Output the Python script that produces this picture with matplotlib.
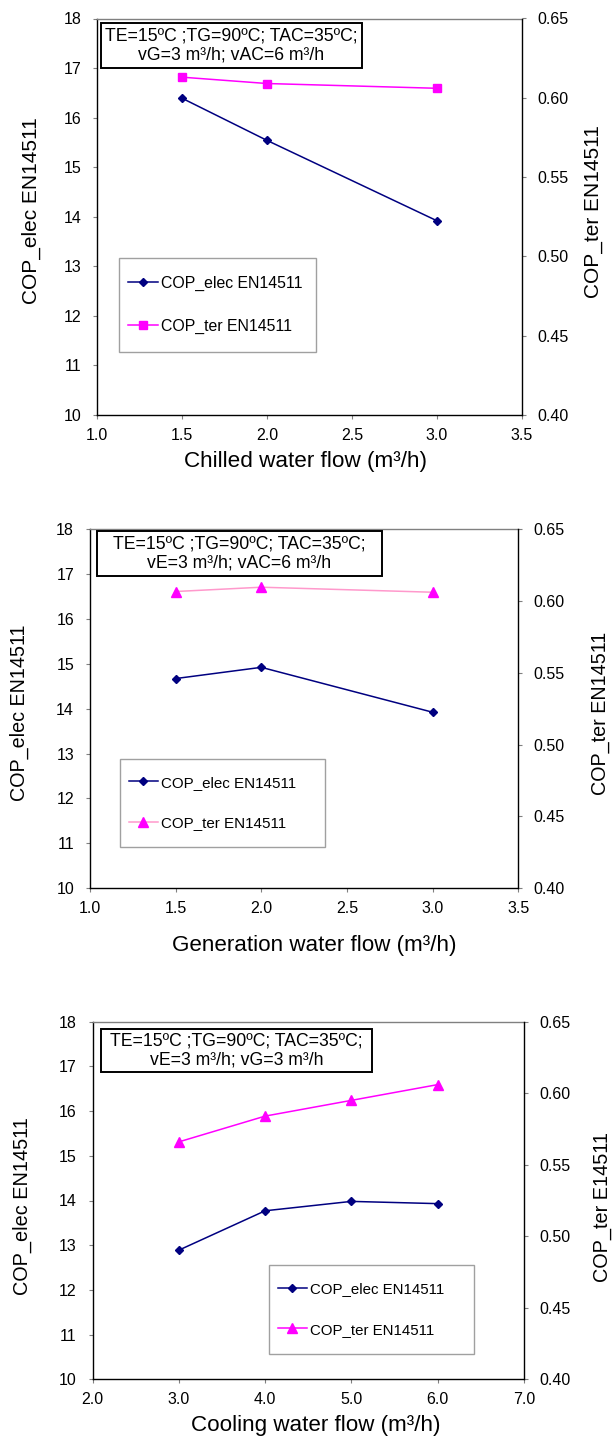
import matplotlib
matplotlib.use('Agg')
import matplotlib.pyplot as plt
from matplotlib.lines import Line2D
from matplotlib.patches import Rectangle
from matplotlib.ticker import FormatStrFormatter, MultipleLocator

plt.rcParams['font.family'] = ['Liberation Sans', 'DejaVu Sans']

W, H, DPI = 613, 1439, 100

# ---------------- data ----------------
chilled_flow = [1.5, 2.0, 3.0]
chilled_cop_elec = [16.39, 15.54, 13.92]
chilled_cop_ter = [0.613, 0.609, 0.606]

gen_flow = [1.5, 2.0, 3.0]
gen_cop_elec = [14.67, 14.92, 13.92]
gen_cop_ter = [0.6065, 0.6095, 0.606]

cool_flow = [3.0, 4.0, 5.0, 6.0]
cool_cop_elec = [12.89, 13.77, 13.98, 13.93]
cool_cop_ter = [0.566, 0.584, 0.595, 0.606]

series_names = ['COP_elec EN14511', 'COP_ter EN14511']
left_label = 'COP_elec EN14511'
right_labels = ['COP_ter EN14511', 'COP_ter EN14511', 'COP_ter E14511']
x_labels = ['Chilled water flow (m³/h)', 'Generation water flow (m³/h)',
            'Cooling water flow (m³/h)']
conditions = ['TE=15ºC ;TG=90ºC; TAC=35ºC;\nvG=3 m³/h; vAC=6 m³/h',
              'TE=15ºC ;TG=90ºC; TAC=35ºC;\nvE=3 m³/h; vAC=6 m³/h',
              'TE=15ºC ;TG=90ºC; TAC=35ºC;\nvE=3 m³/h; vG=3 m³/h']
y_left_lim = (10, 18)
y_right_lim = (0.40, 0.65)

fig = plt.figure(figsize=(W / DPI, H / DPI), dpi=DPI)

NAVY = '#000080'
MAG = '#FF00FF'
GRAY = '#808080'


def panel(rect, xs, elec, ter, xlim, xstep, xlabel, rlabel, cond,
          ter_marker, ter_ms, ter_line, lab, rlab, xlab, labsize,
          cbox, leg_box, legsize):
    l, t, r, b = rect
    pw, ph = r - l, b - t
    ax = fig.add_axes([l / W, 1 - b / H, pw / W, ph / H])
    ax2 = ax.twinx()

    def ac(x, y):
        return (x - l) / pw, (b - y) / ph

    ln1, = ax.plot(xs, elec, color=NAVY, lw=1.1, marker='D', ms=4.4,
                   mfc=NAVY, mec=NAVY, clip_on=False, zorder=3)
    ln2, = ax2.plot(xs, ter, color=ter_line, lw=1.1, marker=ter_marker,
                    ms=ter_ms, mfc=MAG, mec=MAG, clip_on=False, zorder=3)

    ax.set_xlim(*xlim)
    ax.set_ylim(*y_left_lim)
    ax2.set_ylim(*y_right_lim)
    ax.xaxis.set_major_locator(MultipleLocator(xstep))
    ax.xaxis.set_major_formatter(FormatStrFormatter('%.1f'))
    ax.yaxis.set_major_locator(MultipleLocator(1))
    ax2.yaxis.set_major_locator(MultipleLocator(0.05))
    ax2.yaxis.set_major_formatter(FormatStrFormatter('%.2f'))

    ax.tick_params(axis='both', direction='out', length=3, width=0.8,
                   color=GRAY, labelsize=11.5, pad=8.5)
    ax.tick_params(axis='x', pad=6.5)
    ax2.tick_params(axis='y', direction='out', length=3, width=0.8,
                    color=GRAY, labelsize=11.5, pad=8)

    for a in (ax, ax2):
        for s in a.spines.values():
            s.set_linewidth(1.0)
    ax.spines['left'].set_color('black')
    ax.spines['bottom'].set_color('black')
    ax.spines['top'].set_color(GRAY)
    ax.spines['right'].set_visible(False)
    ax2.spines['left'].set_visible(False)
    ax2.spines['bottom'].set_visible(False)
    ax2.spines['top'].set_visible(False)
    ax2.spines['right'].set_color('black')

    ax.set_ylabel(left_label, fontsize=labsize[0], va='center')
    ax.yaxis.set_label_coords(*ac(*lab))
    ax2.set_ylabel(rlabel, fontsize=labsize[1], va='center', rotation=90)
    ax2.yaxis.set_label_coords(*ac(*rlab))
    ax.set_xlabel(xlabel, fontsize=labsize[2], va='center')
    ax.xaxis.set_label_coords(*ac(*xlab))

    # conditions box
    bx0, by0, bx1, by1 = cbox
    x0, y0 = ac(bx0, by1)
    x1, y1 = ac(bx1, by0)
    ax2.add_patch(Rectangle((x0, y0), x1 - x0, y1 - y0, transform=ax2.transAxes,
                            fill=True, facecolor='white', edgecolor='black',
                            lw=1.4, zorder=5, clip_on=False))
    cx, cy = ac((bx0 + bx1) / 2, (by0 + by1) / 2)
    ax2.text(cx, cy, cond, transform=ax2.transAxes, ha='center', va='center',
             fontsize=12.7, linespacing=1.2, zorder=6)

    # legend
    gx0, gy0, gx1, gy1 = leg_box
    x0, y0 = ac(gx0, gy1)
    x1, y1 = ac(gx1, gy0)
    ax2.add_patch(Rectangle((x0, y0), x1 - x0, y1 - y0, transform=ax2.transAxes,
                            fill=True, facecolor='white', edgecolor='#A0A0A0',
                            lw=1.0, zorder=5, clip_on=False))
    lx, ly = ac(gx0 + 9, (gy0 + gy1) / 2)
    leg = ax2.legend([ln1, ln2], series_names, loc='center left',
                     bbox_to_anchor=(lx, ly), frameon=False, fontsize=legsize,
                     borderpad=0, borderaxespad=0, labelspacing=1.75,
                     handlelength=1.9, handletextpad=0.2, markerscale=1.0)
    leg.set_zorder(7)
    return ax, ax2


panel((97.3, 18.5, 521.7, 415), chilled_flow, chilled_cop_elec, chilled_cop_ter,
      (1.0, 3.5), 0.5, x_labels[0], right_labels[0], conditions[0],
      's', 6.0, MAG, (31, 211), (593, 212), (305, 462), (15, 15, 16.2),
      (101, 23, 362, 68), (119, 258, 316, 352), 11.4)

panel((90, 529, 518.3, 888.3), gen_flow, gen_cop_elec, gen_cop_ter,
      (1.0, 3.5), 0.5, x_labels[1], right_labels[1], conditions[1],
      '^', 6.5, '#FF99CC', (19.6, 713), (600, 713), (314, 945), (14.2, 14.2, 16.1),
      (97, 531, 382, 576), (120, 759, 325, 847), 10.9)

panel((92.7, 1021.7, 523.8, 1379.3), cool_flow, cool_cop_elec, cool_cop_ter,
      (2.0, 7.0), 1.0, x_labels[2], right_labels[2], conditions[2],
      '^', 6.5, MAG, (22.8, 1206), (602, 1207), (316, 1425), (14.3, 14.3, 16.1),
      (101, 1029, 372, 1071.7), (269, 1265, 473.5, 1354), 10.8)

fig.savefig('out.png', dpi=DPI)
